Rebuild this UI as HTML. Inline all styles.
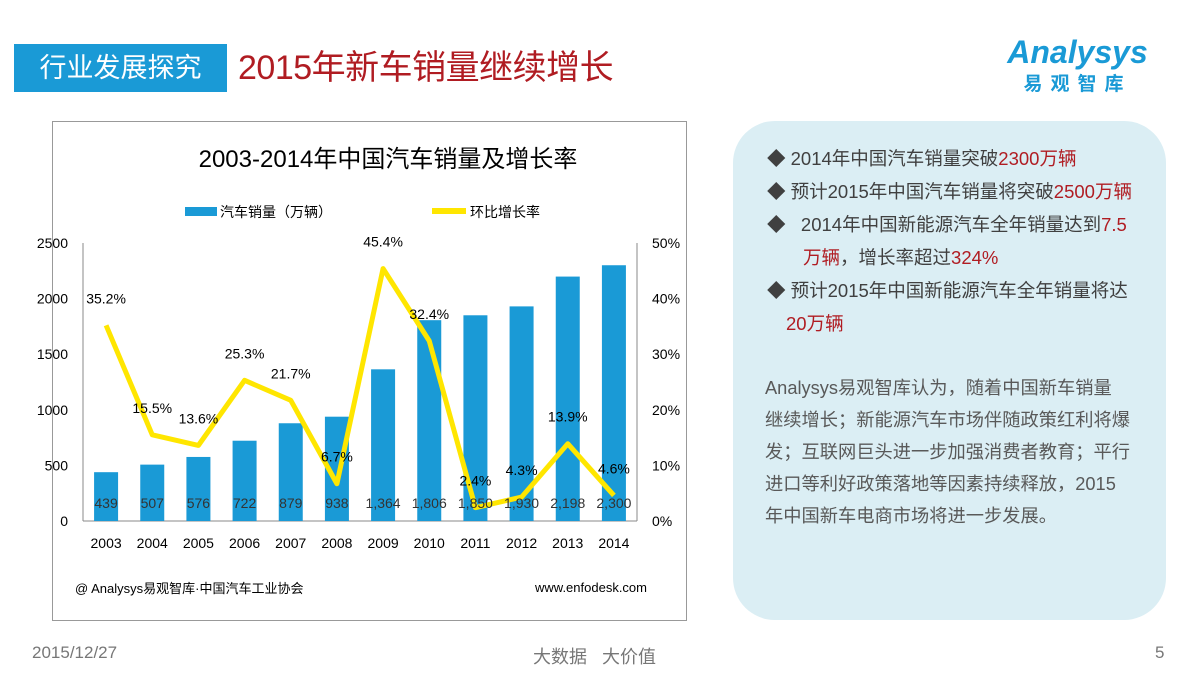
<!DOCTYPE html>
<html><head><meta charset="utf-8"><style>
body{margin:0;width:1200px;height:675px;background:#fff;position:relative;overflow:hidden;font-family:"Liberation Sans","Noto Sans CJK SC",sans-serif}
.a{position:absolute}
</style></head><body>
<div class="a" style="left:14px;top:44px;width:213px;height:48px;background:#1a9ad6;color:#fff;font-size:27px;line-height:48px;text-align:center">行业发展探究</div>
<div class="a" style="left:238px;top:44px;font-size:34px;line-height:48px;color:#b01c22;letter-spacing:-0.5px">2015年新车销量继续增长</div>
<div class="a" style="left:995px;top:32px;width:165px;color:#1a9ad6;text-align:center">
<div style="font-size:32px;font-style:italic;font-weight:bold;line-height:40px">Analysys</div>
<div style="font-size:19px;font-weight:bold;letter-spacing:8px;line-height:26px">易观智库</div></div>
<div class="a" style="left:52px;top:121px;width:633px;height:498px;border:1px solid #999"></div>
<div class="a" style="left:733px;top:121px;width:433px;height:499px;background:#dbeef4;border-radius:42px;color:#404040;font-size:18.5px">
<div style="position:absolute;left:34px;top:21px;line-height:33px;width:395px;white-space:nowrap">
<div>◆ 2014年中国汽车销量突破<span style="color:#b01c22">2300万辆</span></div>
<div>◆ 预计2015年中国汽车销量将突破<span style="color:#b01c22">2500万辆</span></div>
<div>◆ &nbsp;&nbsp;2014年中国新能源汽车全年销量达到<span style="color:#b01c22">7.5</span></div>
<div style="padding-left:36px"><span style="color:#b01c22">万辆</span>，增长率超过<span style="color:#b01c22">324%</span></div>
<div>◆ 预计2015年中国新能源汽车全年销量将达</div>
<div style="padding-left:19px;color:#b01c22">20万辆</div></div>
<div style="position:absolute;left:32px;top:251px;width:390px;line-height:32px;color:#595959;font-size:18.25px;white-space:nowrap">Analysys易观智库认为，随着中国新车销量<br>继续增长；新能源汽车市场伴随政策红利将爆<br>发；互联网巨头进一步加强消费者教育；平行<br>进口等利好政策落地等因素持续释放，2015<br>年中国新车电商市场将进一步发展。</div></div>
<div class="a" style="left:32px;top:643px;font-size:17px;color:#777">2015/12/27</div>
<div class="a" style="left:533px;top:643px;font-size:18px;color:#777">大数据 &nbsp;&nbsp;大价值</div>
<div class="a" style="left:1155px;top:643px;font-size:17px;color:#777">5</div>
<svg class="a" style="left:0;top:0" width="1200" height="675" id="c"></svg>
<script>
const years=["2003","2004","2005","2006","2007","2008","2009","2010","2011","2012","2013","2014"];
const sales=[439,507,576,722,879,938,1364,1806,1850,1930,2198,2300];
const growth=[35.2,15.5,13.6,25.3,21.7,6.7,45.4,32.4,2.4,4.3,13.9,4.6];
const leftTicks=[0,500,1000,1500,2000,2500];
const rightTicks=[0,10,20,30,40,50];
const NS="http://www.w3.org/2000/svg",svg=document.getElementById('c');
function mk(t,a,txt){const e=document.createElementNS(NS,t);for(const k in a)e.setAttribute(k,a[k]);if(txt!=null)e.textContent=txt;svg.appendChild(e);return e;}
const x0=83,x1=637,yB=521,yT=243,step=(x1-x0)/years.length;
const xs=i=>x0+step*(i+0.5),yl=v=>yB-v/2500*(yB-yT),yr=v=>yB-v/50*(yB-yT);
const F='"Liberation Sans","Noto Sans CJK SC",sans-serif';
let t=mk('text',{x:388,y:167,'text-anchor':'middle','font-size':24,fill:'#000','font-family':F},'2003-2014年中国汽车销量及增长率');

let r=mk('rect',{x:185,y:207,width:32,height:9,fill:'#1a9ad6'});
t=mk('text',{x:220,y:217,'font-size':14,'font-family':F},'汽车销量（万辆）');
let l=mk('line',{x1:432,y1:211,x2:466,y2:211,stroke:'#ffe600','stroke-width':6});
t=mk('text',{x:470,y:217,'font-size':14,'font-family':F},'环比增长率');
mk('line',{x1:x0,y1:yT,x2:x0,y2:yB,stroke:'#888'});mk('line',{x1:x1,y1:yT,x2:x1,y2:yB,stroke:'#888'});
mk('line',{x1:x0,y1:yB,x2:x1,y2:yB,stroke:'#888'});
leftTicks.forEach(v=>{const e=mk('text',{x:68,y:yl(v)+5,'text-anchor':'end','font-size':14,'font-family':F},v);});
rightTicks.forEach(v=>{const e=mk('text',{x:652,y:yr(v)+5,'font-size':14,'font-family':F},v+'%');});
years.forEach((y,i)=>{
const b=mk('rect',{x:xs(i)-12,y:yl(sales[i]),width:24,height:yB-yl(sales[i]),fill:'#1a9ad6'});
const e=mk('text',{x:xs(i),y:548,'text-anchor':'middle','font-size':14,'font-family':F},y);
});
const pl=mk('polyline',{points:growth.map((g,i)=>xs(i)+','+yr(g)).join(' '),fill:'none',stroke:'#ffe600','stroke-width':5,'stroke-linejoin':'round'});

years.forEach((y,i)=>{
const e=mk('text',{x:xs(i),y:508,'text-anchor':'middle','font-size':14,'font-family':F,fill:'#333'},sales[i].toLocaleString('en-US'));
const g=mk('text',{x:xs(i),y:yr(growth[i])-22,'text-anchor':'middle','font-size':14,'font-family':F},growth[i].toFixed(1)+'%');
});
t=mk('text',{x:75,y:593,'font-size':13,'font-family':F},'@ Analysys易观智库·中国汽车工业协会');
t=mk('text',{x:535,y:592,'font-size':13,'font-family':F},'www.enfodesk.com');
</script>
</body></html>
